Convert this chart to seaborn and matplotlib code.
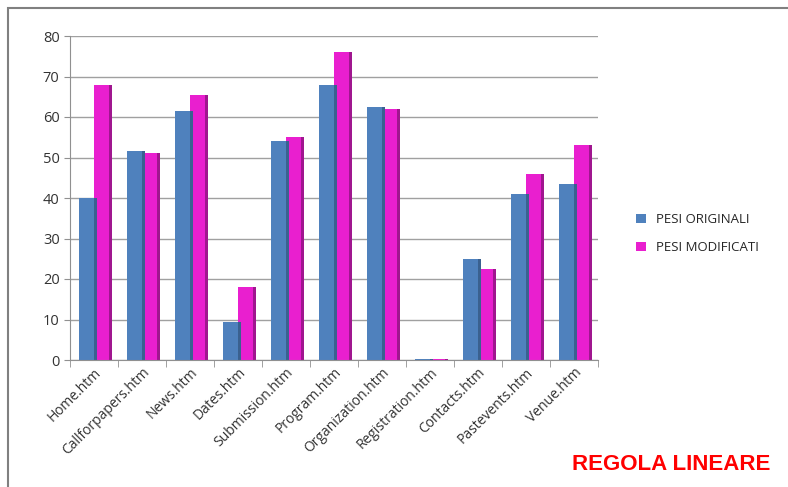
import matplotlib.pyplot as plt
import seaborn as sns
import pandas as pd
from matplotlib.patches import Rectangle

pages = ["Home.htm", "Callforpapers.htm", "News.htm", "Dates.htm", "Submission.htm",
         "Program.htm", "Organization.htm", "Registration.htm", "Contacts.htm",
         "Pastevents.htm", "Venue.htm"]
pesi_originali = [40, 51.5, 61.5, 9.5, 54, 68, 62.5, 0.3, 25, 41, 43.5]
pesi_modificati = [68, 51, 65.5, 18, 55, 76, 62, 0.3, 22.5, 46, 53]
series = ["PESI ORIGINALI", "PESI MODIFICATI"]
colors = ["#4F81BD", "#E91FCF"]

df = pd.DataFrame({
    "page": pages * 2,
    "value": pesi_originali + pesi_modificati,
    "serie": [series[0]] * len(pages) + [series[1]] * len(pages),
})

sns.set_style("white")
plt.rcParams['font.family'] = ['Open Sans', 'DejaVu Sans']

fig = plt.figure(figsize=(7.88, 4.87), dpi=100)
ax = fig.add_axes([70 / 788, 127 / 487, 528 / 788, 324 / 487])

sns.barplot(data=df, x="page", y="value", hue="serie", palette=colors,
            width=0.62, ax=ax, edgecolor="none", saturation=1)
# darker side for a flat 3D look
for cont, side in zip(ax.containers, ["#3A6190", "#A0168F"]):
    for bar in cont:
        ax.add_patch(Rectangle((bar.get_x() + bar.get_width(), 0), 0.06, bar.get_height(),
                               color=side, lw=0, zorder=bar.get_zorder()))

ax.set_ylim(0, 80)
ax.set_yticks(range(0, 81, 10))
ax.set_xlim(-0.5, len(pages) - 0.5)
ax.yaxis.grid(True, color="#A0A0A0", lw=1)
ax.set_axisbelow(True)
for s in ["top", "right"]:
    ax.spines[s].set_visible(False)
ax.spines["left"].set_color("#909090")
ax.spines["bottom"].set_color("#909090")
ax.tick_params(axis="y", labelsize=10.5, colors="#333333", length=4, color="#909090", left=True)
ax.tick_params(axis="x", labelsize=10, colors="#333333", length=5, color="#909090", bottom=True)
ax.set_xticks([i + 0.5 for i in range(-1, len(pages))], minor=True)
ax.tick_params(axis="x", which="major", length=0)
ax.tick_params(axis="x", which="minor", length=5, color="#909090", bottom=True)
plt.setp(ax.get_xticklabels(), rotation=45, ha="right", rotation_mode="anchor")
ax.set_xlabel("")
ax.set_ylabel("")

ax.legend(loc="center left", bbox_to_anchor=(1.05, 0.39), frameon=False,
          fontsize=9.5, handlelength=0.7, handleheight=0.7, labelspacing=1.1)

fig.patches.append(Rectangle((8 / 788, -0.1), 1, 1.1 - 8 / 487, transform=fig.transFigure,
                             fill=False, edgecolor="#808080", lw=1.5))
fig.text(0.977, 0.025, "REGOLA LINEARE", color="#FF0000", fontsize=16,
         fontweight="bold", ha="right", va="bottom", family=["Liberation Sans", "DejaVu Sans"])

fig.savefig("out.png", dpi=100)
